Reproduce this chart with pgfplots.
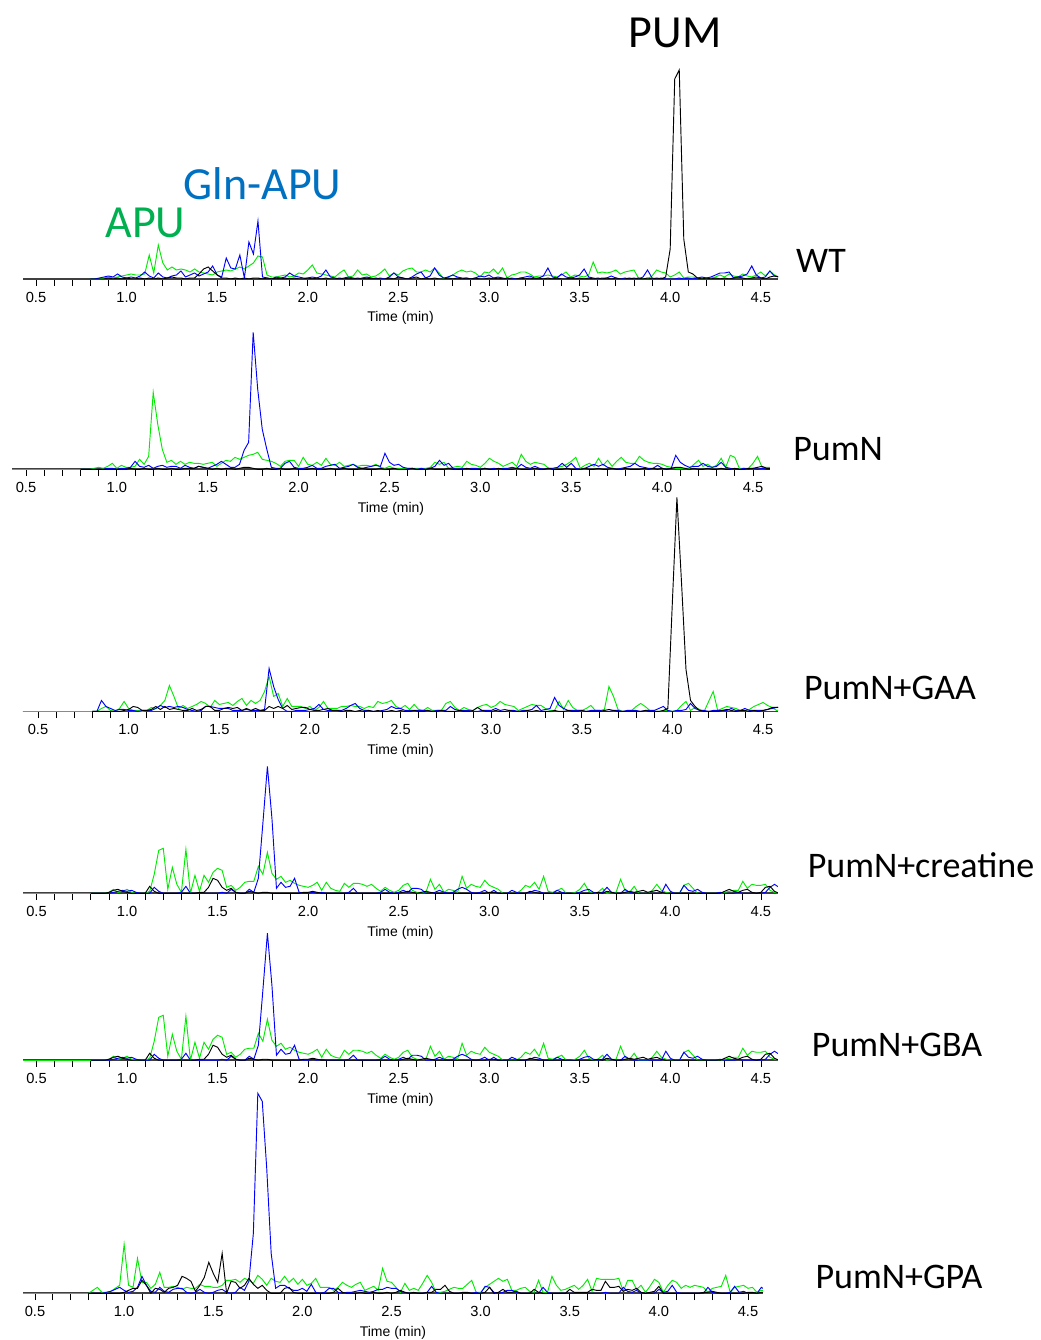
\documentclass[border=0pt]{standalone}
\usepackage{fontspec}
\setmainfont{Carlito}
\newfontfamily\arial{Liberation Sans}
\usepackage{pgfplots}
\usepackage{pgfplotstable}
\pgfplotsset{compat=1.18}
\definecolor{lgreen}{RGB}{0,235,0}
\definecolor{lblue}{RGB}{0,0,255}
\definecolor{apublue}{RGB}{0,112,192}
\definecolor{apugreen}{RGB}{0,176,80}
% ---------- Panel 1 (WT) ----------
\pgfplotstableread[header=false,row sep=\\]{
0\\0\\0\\1\\2\\1\\2\\3\\4\\5\\ 4\\4\\5\\24\\6\\34\\16\\9\\12\\9\\ 10\\9\\7\\10\\7\\6\\5\\4\\7\\8\\ 9\\8\\10\\12\\10\\13\\16\\23\\22\\4\\
2\\2\\3\\4\\2\\3\\6\\5\\9\\14\\ 6\\5\\4\\3\\2\\6\\9\\2\\3\\9\\ 4\\5\\2\\3\\6\\10\\3\\6\\4\\8\\ 10\\11\\7\\7\\9\\7\\11\\6\\0\\2\\
4\\7\\9\\7\\8\\6\\2\\7\\6\\10\\ 5\\11\\1\\4\\5\\7\\7\\5\\2\\3\\ 3\\4\\3\\2\\4\\7\\2\\4\\3\\2\\ 4\\17\\6\\7\\6\\7\\9\\5\\7\\8\\
9\\1\\0\\0\\3\\9\\7\\6\\2\\4\\ 7\\1\\2\\2\\1\\1\\0\\1\\2\\4\\ 2\\5\\3\\2\\5\\3\\2\\4\\7\\3\\ 8\\4\\2\\
}\gA
\pgfplotstableread[header=false,row sep=\\]{
0\\0\\1\\2\\3\\2\\5\\2\\1\\2\\ 1\\3\\7\\3\\1\\6\\2\\1\\3\\4\\ 8\\2\\4\\6\\3\\5\\7\\13\\4\\2\\ 21\\11\\10\\24\\1\\37\\25\\58\\2\\1\\
0\\2\\1\\2\\6\\3\\2\\1\\1\\2\\ 1\\3\\9\\2\\1\\0\\1\\2\\1\\0\\ 1\\2\\1\\0\\1\\0\\2\\6\\2\\1\\ 0\\2\\5\\7\\1\\3\\11\\4\\1\\2\\
4\\2\\1\\1\\0\\1\\3\\2\\4\\1\\ 2\\1\\0\\1\\0\\1\\2\\3\\1\\1\\ 3\\11\\2\\1\\5\\2\\1\\2\\4\\10\\ 2\\1\\0\\1\\1\\3\\1\\0\\1\\0\\
1\\0\\2\\9\\1\\0\\1\\0\\0\\0\\ 1\\0\\1\\0\\1\\2\\1\\2\\4\\6\\ 6\\7\\1\\2\\3\\5\\13\\4\\1\\2\\ 8\\3\\2\\
}\bA
\pgfplotstableread[header=false,row sep=\\]{
0\\0\\0\\0\\1\\0\\1\\0\\1\\0\\ 0\\1\\0\\1\\0\\1\\0\\1\\2\\1\\ 1\\0\\1\\1\\5\\10\\12\\8\\4\\1\\ 1\\0\\1\\0\\1\\0\\1\\1\\0\\1\\
0\\1\\0\\1\\0\\1\\0\\0\\1\\0\\ 1\\0\\1\\0\\0\\1\\0\\1\\0\\1\\ 0\\1\\0\\1\\0\\0\\1\\0\\2\\1\\ 0\\1\\2\\0\\1\\0\\1\\0\\0\\1\\
0\\1\\0\\1\\0\\1\\0\\0\\1\\0\\ 1\\0\\1\\0\\0\\1\\0\\1\\0\\1\\ 0\\1\\0\\1\\0\\0\\1\\0\\1\\0\\ 1\\0\\1\\0\\1\\0\\1\\0\\0\\1\\
0\\1\\0\\1\\0\\1\\0\\2\\30\\200\\ 209\\40\\7\\5\\1\\0\\1\\0\\1\\0\\ 1\\0\\1\\2\\1\\0\\1\\2\\1\\0\\ 2\\3\\2\\
}\kA
% ---------- Panel 2 (PumN) ----------
\pgfplotstableread[header=false,row sep=\\]{
0\\0\\0\\1\\2\\1\\3\\6\\1\\4\\ 2\\2\\3\\10\\5\\13\\77\\45\\20\\7\\ 9\\5\\8\\5\\7\\6\\6\\5\\6\\7\\ 3\\6\\9\\8\\12\\10\\12\\14\\15\\17\\
10\\9\\8\\6\\3\\8\\9\\9\\3\\12\\ 5\\4\\7\\4\\11\\5\\4\\7\\3\\4\\ 5\\3\\4\\4\\3\\5\\2\\1\\3\\1\\ 1\\1\\1\\1\\1\\1\\1\\2\\7\\5\\
7\\1\\2\\3\\2\\8\\5\\4\\2\\6\\ 11\\8\\6\\3\\5\\7\\3\\15\\8\\5\\ 7\\6\\5\\1\\1\\2\\3\\5\\8\\12\\ 1\\4\\6\\3\\11\\4\\9\\3\\8\\12\\
7\\6\\6\\13\\9\\7\\6\\6\\5\\3\\ 2\\1\\1\\1\\1\\5\\9\\3\\5\\2\\ 4\\11\\2\\14\\12\\1\\1\\1\\6\\13\\ 2\\2\\2\\
}\gB
\pgfplotstableread[header=false,row sep=\\]{
0\\0\\0\\0\\0\\0\\1\\1\\0\\1\\ 1\\2\\8\\3\\2\\4\\1\\3\\4\\2\\ 3\\3\\1\\4\\2\\1\\3\\2\\1\\3\\ 5\\8\\5\\2\\2\\5\\19\\27\\137\\80\\
40\\20\\2\\1\\1\\6\\8\\2\\1\\1\\ 2\\4\\1\\1\\3\\4\\5\\1\\2\\3\\ 5\\2\\1\\2\\3\\4\\3\\16\\7\\4\\ 5\\2\\1\\1\\0\\1\\0\\1\\3\\9\\
4\\6\\1\\0\\1\\0\\1\\1\\0\\1\\ 0\\1\\0\\1\\1\\2\\1\\5\\2\\1\\ 3\\1\\0\\1\\1\\2\\6\\2\\6\\1\\ 0\\1\\3\\5\\3\\5\\2\\1\\0\\1\\
2\\3\\6\\3\\2\\1\\1\\4\\1\\0\\ 1\\14\\7\\4\\2\\3\\3\\6\\3\\2\\ 3\\7\\2\\1\\0\\0\\1\\0\\1\\0\\ 1\\0\\0\\
}\bB
\pgfplotstableread[header=false,row sep=\\]{
0\\0\\0\\0\\0\\0\\0\\0\\0\\0\\ 0\\1\\0\\0\\1\\0\\0\\1\\0\\0\\ 1\\0\\0\\1\\1\\1\\3\\2\\1\\0\\ 1\\0\\1\\1\\0\\1\\2\\2\\1\\0\\
0\\1\\0\\0\\1\\0\\0\\1\\0\\0\\ 0\\1\\0\\0\\0\\1\\0\\0\\1\\0\\ 0\\0\\1\\0\\0\\0\\1\\0\\0\\1\\ 0\\0\\0\\1\\0\\0\\0\\1\\0\\0\\
0\\1\\0\\0\\0\\1\\0\\0\\0\\1\\ 0\\0\\1\\0\\0\\0\\1\\0\\0\\0\\ 1\\0\\0\\1\\0\\0\\0\\1\\0\\0\\ 0\\1\\0\\0\\1\\0\\0\\1\\0\\0\\
1\\0\\0\\0\\1\\0\\1\\0\\1\\0\\ 1\\2\\2\\1\\0\\1\\0\\0\\1\\0\\ 0\\1\\0\\0\\1\\0\\0\\1\\1\\2\\ 3\\1\\1\\
}\kB
% ---------- Panel 3 (PumN+GAA) ----------
\pgfplotstableread[header=false,row sep=\\]{
0\\0\\3\\5\\1\\0\\3\\10\\3\\1\\ 1\\0\\1\\4\\3\\6\\11\\26\\15\\3\\ 6\\3\\5\\7\\10\\8\\4\\11\\7\\8\\ 9\\6\\10\\13\\6\\11\\8\\11\\20\\35\\
15\\18\\5\\13\\5\\5\\5\\3\\5\\1\\ 4\\10\\3\\3\\3\\5\\5\\6\\5\\5\\ 3\\5\\4\\10\\8\\9\\11\\5\\3\\6\\ 2\\7\\2\\1\\4\\1\\1\\1\\8\\10\\
4\\1\\4\\2\\1\\4\\6\\7\\4\\6\\ 10\\7\\6\\5\\1\\3\\5\\7\\6\\6\\ 3\\1\\1\\10\\2\\11\\4\\1\\1\\3\\ 6\\1\\1\\2\\25\\15\\2\\0\\0\\1\\
5\\8\\5\\1\\0\\0\\1\\1\\0\\1\\ 6\\10\\1\\4\\2\\0\\10\\20\\1\\3\\ 5\\4\\3\\1\\1\\2\\5\\7\\9\\6\\ 4\\1\\2\\
}\gC
\pgfplotstableread[header=false,row sep=\\]{
0\\0\\11\\5\\3\\1\\2\\2\\1\\1\\ 0\\1\\1\\1\\3\\6\\4\\5\\4\\5\\ 4\\2\\1\\0\\1\\5\\5\\4\\3\\3\\ 3\\1\\1\\1\\2\\1\\1\\1\\2\\43\\
25\\12\\3\\0\\0\\1\\1\\1\\2\\3\\ 7\\2\\1\\1\\1\\1\\3\\6\\8\\3\\ 1\\1\\0\\0\\1\\2\\5\\3\\3\\1\\ 1\\1\\1\\1\\1\\0\\1\\1\\1\\5\\
2\\1\\1\\1\\0\\0\\1\\1\\1\\3\\ 1\\2\\1\\1\\0\\1\\1\\2\\6\\1\\ 2\\3\\14\\6\\3\\1\\1\\1\\1\\0\\ 1\\1\\1\\0\\0\\1\\1\\0\\1\\1\\
1\\0\\1\\1\\1\\3\\5\\1\\0\\1\\ 1\\2\\8\\3\\1\\1\\0\\1\\1\\1\\ 1\\3\\1\\1\\3\\1\\1\\1\\1\\2\\ 3\\4\\4\\
}\bC
\pgfplotstableread[header=false,row sep=\\]{
0\\0\\0\\0\\0\\0\\0\\1\\2\\5\\ 4\\1\\1\\2\\5\\2\\5\\2\\3\\2\\ 1\\1\\3\\1\\2\\5\\5\\1\\1\\3\\ 4\\3\\4\\1\\3\\1\\3\\1\\1\\5\\
3\\5\\3\\6\\2\\3\\4\\4\\2\\1\\ 1\\2\\3\\1\\1\\0\\1\\1\\0\\1\\ 0\\1\\0\\1\\0\\0\\1\\0\\1\\0\\ 0\\1\\0\\0\\1\\0\\0\\1\\0\\0\\
0\\1\\0\\0\\1\\4\\1\\0\\0\\1\\ 0\\0\\1\\0\\0\\0\\1\\0\\1\\0\\ 0\\0\\1\\0\\0\\1\\0\\0\\1\\0\\ 0\\0\\0\\1\\2\\1\\0\\0\\0\\0\\
0\\0\\1\\0\\0\\0\\1\\3\\110\\214\\ 130\\42\\11\\5\\1\\0\\0\\0\\0\\1\\ 2\\1\\0\\1\\1\\0\\1\\0\\1\\2\\ 4\\4\\4\\
}\kC
% ---------- Panels 4 and 5 (PumN+creatine, PumN+GBA) ----------
\pgfplotstableread[header=false,row sep=\\]{
0\\0\\0\\0\\1\\4\\1\\2\\4\\1\\ 0\\0\\0\\2\\19\\43\\45\\4\\26\\9\\ 1\\44\\0\\18\\2\\18\\11\\21\\25\\23\\ 6\\8\\3\\6\\11\\12\\12\\27\\19\\41\\
20\\14\\17\\11\\13\\10\\8\\7\\6\\8\\ 11\\3\\11\\5\\3\\2\\10\\6\\10\\10\\ 9\\7\\9\\5\\2\\6\\3\\1\\3\\8\\ 10\\3\\1\\1\\1\\14\\4\\9\\1\\4\\
3\\1\\17\\5\\9\\7\\6\\13\\8\\6\\ 4\\0\\0\\0\\0\\3\\8\\6\\11\\4\\ 17\\2\\1\\3\\5\\0\\0\\1\\4\\10\\ 2\\0\\1\\5\\0\\1\\1\\14\\3\\1\\
7\\0\\0\\0\\3\\9\\3\\1\\0\\0\\ 0\\8\\10\\5\\0\\0\\0\\0\\0\\0\\ 1\\2\\3\\3\\12\\5\\9\\8\\8\\9\\ 3\\1\\0\\
}\gD
\pgfplotstableread[header=false,row sep=\\]{
0\\0\\0\\0\\0\\1\\2\\3\\2\\3\\ 1\\0\\0\\0\\6\\2\\0\\0\\0\\0\\ 1\\7\\0\\0\\0\\0\\0\\0\\0\\1\\ 0\\4\\1\\0\\0\\4\\1\\15\\70\\127\\
75\\5\\11\\6\\7\\15\\1\\0\\0\\1\\ 0\\1\\0\\0\\0\\0\\0\\1\\5\\0\\ 0\\0\\0\\0\\1\\4\\1\\0\\1\\3\\ 1\\5\\5\\4\\0\\0\\1\\3\\1\\0\\
1\\4\\6\\4\\1\\0\\1\\3\\0\\3\\ 0\\0\\0\\3\\1\\0\\0\\1\\3\\2\\ 0\\0\\0\\3\\1\\0\\0\\0\\1\\3\\ 4\\1\\0\\1\\6\\1\\0\\0\\4\\1\\
0\\0\\0\\0\\0\\0\\0\\9\\2\\0\\ 0\\8\\3\\2\\4\\1\\0\\0\\0\\1\\ 0\\0\\0\\1\\0\\0\\0\\0\\0\\1\\ 6\\9\\6\\
}\bD
\pgfplotstableread[header=false,row sep=\\]{
0\\0\\0\\0\\1\\3\\4\\2\\1\\0\\ 0\\0\\0\\7\\2\\0\\0\\0\\0\\0\\ 0\\0\\0\\0\\1\\1\\6\\15\\13\\6\\ 3\\5\\1\\0\\0\\2\\1\\0\\1\\1\\
0\\0\\0\\0\\0\\0\\0\\1\\1\\2\\ 1\\0\\0\\0\\0\\0\\0\\0\\0\\0\\ 0\\0\\0\\0\\0\\0\\0\\0\\0\\1\\ 2\\1\\0\\1\\2\\1\\0\\0\\0\\0\\
0\\0\\0\\0\\0\\0\\0\\0\\1\\1\\ 0\\0\\0\\0\\0\\0\\0\\2\\1\\0\\ 0\\0\\0\\0\\0\\0\\0\\0\\0\\0\\ 0\\0\\1\\0\\2\\1\\0\\0\\1\\2\\
1\\2\\3\\1\\2\\3\\1\\0\\0\\0\\ 0\\0\\0\\0\\0\\0\\0\\0\\0\\0\\ 2\\4\\2\\1\\3\\4\\1\\0\\1\\6\\ 7\\2\\0\\
}\kD
% ---------- Panel 6 (PumN+GPA) ----------
\pgfplotstableread[header=false,row sep=\\]{
0\\3\\6\\1\\1\\2\\5\\8\\49\\8\\ 6\\35\\11\\11\\5\\9\\21\\6\\6\\7\\ 6\\4\\6\\5\\5\\9\\7\\7\\6\\6\\ 8\\13\\13\\14\\11\\15\\13\\10\\18\\14\\
8\\15\\12\\11\\17\\11\\15\\9\\14\\8\\ 10\\15\\6\\6\\6\\3\\6\\11\\8\\6\\ 9\\11\\3\\5\\7\\3\\25\\12\\11\\6\\ 1\\10\\3\\5\\3\\10\\18\\11\\1\\1\\
2\\4\\6\\5\\5\\9\\13\\1\\1\\6\\ 9\\12\\15\\12\\14\\3\\3\\5\\6\\2\\ 1\\13\\1\\1\\17\\8\\3\\4\\6\\8\\ 4\\8\\14\\2\\15\\14\\14\\14\\14\\15\\
2\\13\\13\\4\\8\\1\\7\\14\\11\\1\\ 8\\13\\11\\5\\8\\6\\8\\7\\6\\1\\ 5\\6\\7\\18\\1\\6\\7\\8\\5\\6\\ 1\\3\\3\\
}\gF
\pgfplotstableread[header=false,row sep=\\]{
0\\0\\0\\0\\1\\2\\4\\6\\3\\1\\ 2\\6\\17\\8\\2\\1\\6\\2\\1\\4\\ 5\\5\\1\\0\\1\\4\\1\\0\\1\\3\\ 4\\1\\0\\1\\6\\3\\12\\60\\200\\192\\
125\\40\\5\\8\\8\\5\\3\\3\\5\\2\\ 9\\1\\0\\1\\5\\5\\1\\0\\1\\1\\ 2\\3\\2\\1\\2\\4\\4\\6\\5\\5\\ 2\\1\\0\\0\\0\\0\\1\\7\\1\\0\\
0\\0\\0\\0\\0\\0\\0\\1\\0\\7\\ 6\\1\\0\\1\\3\\3\\1\\0\\0\\0\\ 0\\0\\6\\1\\0\\0\\0\\0\\0\\0\\ 0\\0\\0\\0\\0\\0\\1\\0\\0\\0\\
6\\2\\1\\3\\0\\0\\0\\0\\4\\1\\ 2\\8\\1\\0\\0\\0\\0\\0\\0\\6\\ 1\\0\\0\\0\\1\\7\\1\\2\\0\\0\\ 0\\6\\3\\
}\bF
\pgfplotstableread[header=false,row sep=\\]{
0\\0\\0\\0\\0\\0\\0\\0\\1\\3\\ 5\\5\\13\\8\\0\\5\\4\\1\\5\\6\\ 8\\17\\15\\12\\2\\8\\16\\31\\20\\11\\ 40\\0\\12\\11\\5\\8\\15\\9\\5\\8\\
3\\0\\0\\0\\5\\6\\1\\0\\0\\0\\ 0\\0\\0\\0\\0\\1\\5\\1\\0\\0\\ 0\\1\\0\\0\\1\\0\\0\\1\\0\\1\\ 3\\1\\0\\1\\0\\0\\1\\1\\4\\4\\
8\\2\\0\\0\\1\\1\\0\\0\\0\\1\\ 6\\0\\1\\4\\1\\1\\2\\0\\0\\0\\ 4\\1\\0\\0\\0\\0\\0\\0\\4\\1\\ 1\\1\\1\\4\\3\\3\\12\\6\\6\\7\\
2\\4\\3\\5\\1\\0\\1\\2\\7\\0\\ 0\\0\\0\\0\\0\\0\\0\\0\\1\\1\\ 2\\1\\0\\0\\0\\0\\0\\0\\1\\1\\ 0\\1\\1\\
}\kF

\pgfplotsset{
  chrom/.style={
    scale only axis, anchor=south west, y=0.75pt, ymin=0,
    axis x line=bottom, axis y line=none, ytick=\empty,
    x axis line style={-, line width=1.4pt, color=black!75},
    xtick={0.5,1,1.5,2,2.5,3,3.5,4,4.5},
    xticklabels={0.5,1.0,1.5,2.0,2.5,3.0,3.5,4.0,4.5},
    minor x tick num=4, tick align=outside,
    major tick length=5pt, minor tick length=5pt,
    every tick/.style={black, line width=0.6pt},
    xticklabel style={font=\arial\fontsize{11}{13}\selectfont, anchor=base, yshift=-12.5pt},
    xlabel={Time (min)},
    xlabel style={font=\arial\fontsize{10.5}{12}\selectfont, at={(axis description cs:0.5,0)}, anchor=center, yshift=-29.5pt},
  },
  gl/.style={color=lgreen, line width=0.7pt, mark=none},
  bl/.style={color=lblue, line width=0.7pt, mark=none},
  kl/.style={color=black, line width=0.7pt, mark=none},
}
\newcommand{\chrom}[3]{%
  \addplot[gl] coordinates {(0.40,0) (0.80,0)};
  \addplot[gl] table[x expr={0.8+0.025*\coordindex}, y index=0] {#1};
  \addplot[bl] table[x expr={0.8+0.025*\coordindex}, y index=0] {#2};
  \addplot[kl] table[x expr={0.8+0.025*\coordindex}, y index=0] {#3};
}

\begin{document}
\begin{tikzpicture}[x=0.75pt, y=0.75pt]
\useasboundingbox (0,0) rectangle (1041,1340);

\begin{axis}[chrom, at={(17.25pt,795.75pt)}, x=135.9pt, xmin=0.4283, xmax=4.595, ymax=212]
\chrom{\gA}{\bA}{\kA}
\end{axis}

\begin{axis}[chrom, at={(9pt,653.0pt)}, x=136.31pt, xmin=0.423, xmax=4.5935, ymax=140]
\chrom{\gB}{\bB}{\kB}
\end{axis}

\begin{axis}[chrom, at={(17.25pt,471.4pt)}, x=135.94pt, xmin=0.4172, xmax=4.5828, ymax=216]
\chrom{\gC}{\bC}{\kC}
\end{axis}

\begin{axis}[chrom, at={(17.25pt,335.0pt)}, x=135.83pt, xmin=0.4255, xmax=4.594, ymax=130]
\chrom{\gD}{\bD}{\kD}
\end{axis}

\begin{axis}[chrom, at={(17.25pt,209.8pt)}, x=135.83pt, xmin=0.4255, xmax=4.594, ymax=130]
\chrom{\gD}{\bD}{\kD}
\end{axis}

\begin{axis}[chrom, at={(17.25pt,35.0pt)}, x=133.69pt, xmin=0.4327, xmax=4.584, ymax=202]
\chrom{\gF}{\bF}{\kF}
\end{axis}

\node[anchor=base, font=\fontsize{34.5}{40}\selectfont, inner sep=0pt] at (675,1292) {PUM};
\node[anchor=base, font=\fontsize{34.5}{40}\selectfont, text=apublue, inner sep=0pt] at (262.5,1140) {Gln-APU};
\node[anchor=base, font=\fontsize{34.5}{40}\selectfont, text=apugreen, inner sep=0pt] at (145.5,1102) {APU};

\node[anchor=base, font=\fontsize{27}{32}\selectfont, inner sep=0pt] at (821,1067) {WT};
\node[anchor=base, font=\fontsize{27}{32}\selectfont, inner sep=0pt] at (838,879) {PumN};
\node[anchor=base, font=\fontsize{27}{32}\selectfont, inner sep=0pt] at (890,640) {PumN+GAA};
\node[anchor=base, font=\fontsize{27}{32}\selectfont, inner sep=0pt] at (921,462) {PumN+creatine};
\node[anchor=base, font=\fontsize{27}{32}\selectfont, inner sep=0pt] at (897,283) {PumN+GBA};
\node[anchor=base, font=\fontsize{27}{32}\selectfont, inner sep=0pt] at (899,51) {PumN+GPA};
\end{tikzpicture}
\end{document}
